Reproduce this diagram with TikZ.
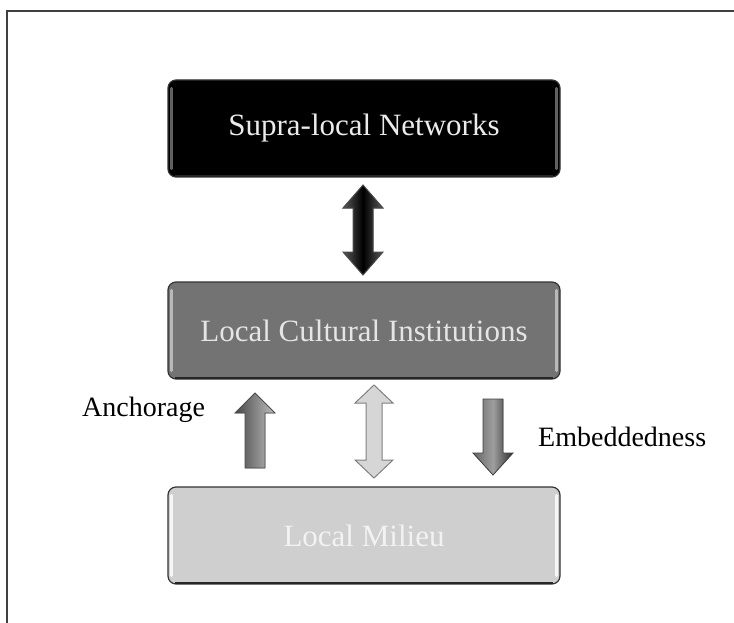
\documentclass[tikz,border=0pt]{standalone}
\usepackage{fontspec}
\setmainfont{Liberation Serif}
\begin{document}
\begin{tikzpicture}[x=1pt,y=-1pt,
  box/.style={rounded corners=8pt, minimum width=392pt, minimum height=97pt, inner sep=0pt,
    draw=black!80, line width=1.2pt, font=\fontsize{31}{37}\selectfont},
  lbl/.style={font=\fontsize{28}{34}\selectfont, inner sep=0pt, anchor=base west},
  frameline/.style={draw=black!75, line width=1.4pt}]
\useasboundingbox (0,0) rectangle (734,623);
% frame
\coordinate (fbl) at (7,623);
\coordinate (ftl) at (7,11);
\coordinate (ftr) at (734,11);
\draw[frameline] (fbl) -- (ftl) -- (ftr);

% boxes
\node[box, fill=black, text=black!8] (sup) at (364,128.5) {Supra-local Networks};
\node[box, fill=black!55, text=black!10] (lci) at (364,330.5) {Local Cultural Institutions};
\node[box, fill=black!19, text=black!5] (mil) at (364,535.5) {Local Milieu};

% bevel highlights
\foreach \b/\c in {sup/black!62, lci/black!28, mil/black!3}{
  \draw[\c, line width=3pt, line cap=round] ([xshift=4pt,yshift=-9pt]\b.north west) -- ([xshift=4pt,yshift=9pt]\b.south west);
  \draw[\c, line width=3pt, line cap=round] ([xshift=-4pt,yshift=-9pt]\b.north east) -- ([xshift=-4pt,yshift=9pt]\b.south east);
  \draw[black!85, line width=1.6pt] ([xshift=8pt,yshift=1.5pt]\b.south west) -- ([xshift=-8pt,yshift=1.5pt]\b.south east);
}

% double arrow between Supra-local and Local Cultural
\filldraw[draw=black!70, line width=1pt, left color=black!65, right color=black!65, middle color=black]
  (363,185) -- (383,208) -- (373,208) -- (373,252) -- (383,252) -- (363,275)
  -- (343,252) -- (353,252) -- (353,208) -- (343,208) -- cycle;

% Anchorage up arrow
\filldraw[draw=black!70, line width=0.8pt, left color=black!72, right color=black!25]
  (255,393) -- (275,413) -- (265,413) -- (265,468) -- (245,468) -- (245,413) -- (235,413) -- cycle;
% middle double arrow
\filldraw[draw=black!50, line width=1pt, fill=black!16]
  (374,385) -- (393,403) -- (382,403) -- (382,460) -- (393,460) -- (374,478)
  -- (355,460) -- (366,460) -- (366,403) -- (355,403) -- cycle;
% Embeddedness down arrow
\filldraw[draw=black!75, line width=0.8pt, left color=black!60, right color=black!82, middle color=black!38]
  (483,399) -- (503,399) -- (503,453) -- (513,453) -- (493,475) -- (473,453) -- (483,453) -- cycle;

% labels
\node[lbl] (anc) at (82,416) {Anchorage};
\node[lbl] (emb) at (538,446) {Embeddedness};
\end{tikzpicture}
\end{document}
